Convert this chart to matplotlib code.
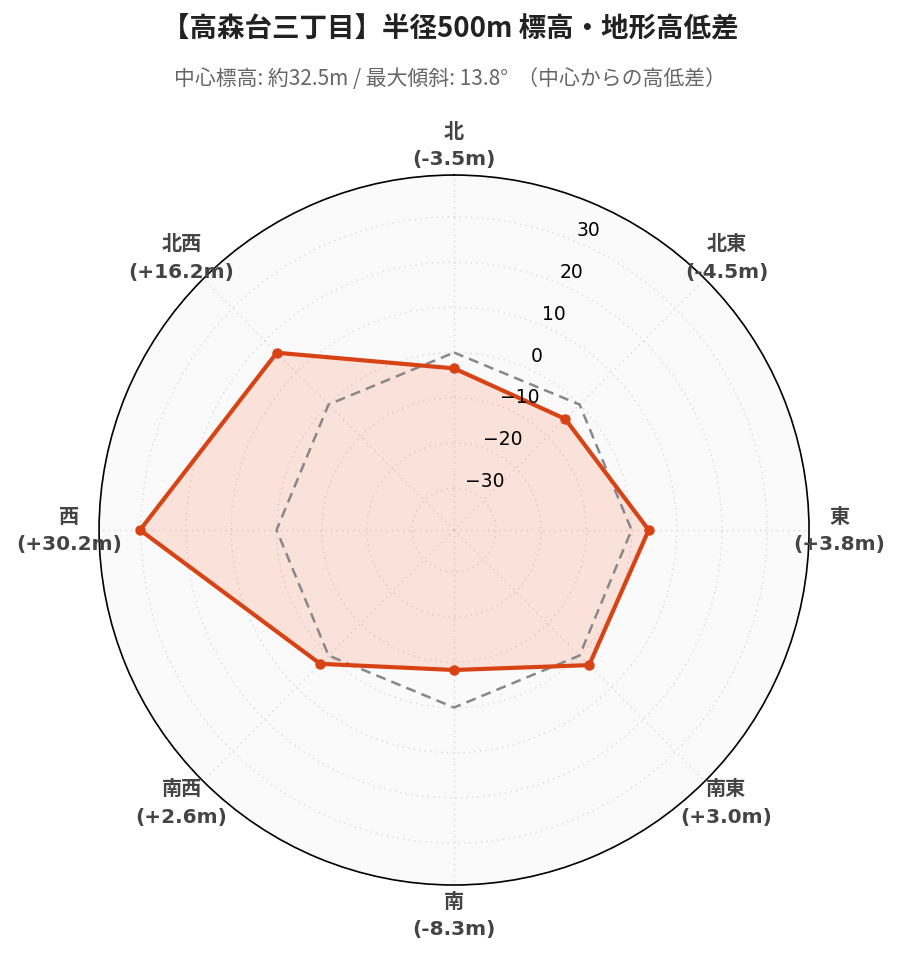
import matplotlib
matplotlib.use('AGG')

import numpy as np
import matplotlib.pyplot as plt
from matplotlib.transforms import ScaledTranslation

# data
directions = ['北', '北東', '東', '南東', '南', '南西', '西', '北西']
diffs = [-3.5, -4.5, 3.8, 3.0, -8.3, 2.6, 30.2, 16.2]
rticks = [-30, -20, -10, 0, 10, 20, 30]
title = '【高森台三丁目】半径500m 標高・地形高低差'
subtitle = '中心標高: 約32.5m / 最大傾斜: 13.8°  （中心からの高低差）'

plt.rcParams['font.family'] = ['Noto Sans CJK JP', 'DejaVu Sans']

rmax = max(abs(v) for v in diffs) * 1.3
theta = np.deg2rad(np.arange(len(directions)) * 45)
th_c = np.append(theta, theta[0])
r_c = np.append(diffs, diffs[0])

fig = plt.figure(figsize=(9, 9.62), dpi=100)
ax = fig.add_axes([0.11, 0.079, 0.789, 0.738], projection='polar')
ax.set_theta_zero_location('N')
ax.set_theta_direction(-1)
ax.set_rlim(-rmax, rmax)
ax.set_facecolor('#fafafa')

# grid
ax.set_xticks(theta)
ax.set_xticklabels([])
ax.set_yticks(rticks)
ax.set_yticklabels([])
ax.grid(True, color='#d9d9d9', linestyle=(0, (1, 3)), linewidth=1)
ax.spines['polar'].set_color('black')
ax.spines['polar'].set_linewidth(1.2)

# zero reference line
ax.plot(th_c, np.zeros_like(th_c), color='#888888', linestyle=(0, (4, 2.5)), linewidth=1.8, zorder=3)

# data polygon
ax.fill(th_c, r_c, color='#ff7043', alpha=0.18, zorder=2, linewidth=0)
ax.plot(th_c, r_c, color='#d84315', linewidth=3, zorder=4)
ax.plot(theta, diffs, 'o', color='#d84315', markersize=6.5, zorder=5)

# radial tick labels
off = ax.transData + ScaledTranslation(0.15, 0.11, fig.dpi_scale_trans)
for v in rticks:
    ax.text(np.deg2rad(22.5), v, f'{v}'.replace('-', '\u2212'), transform=off,
            ha='center', va='center', fontsize=13.5, family='DejaVu Sans', color='black', zorder=6)

# direction labels
for t, d, v in zip(theta, directions, diffs):
    ax.text(t, rmax + 6.7, f'{d}\n({v:+.1f}m)', ha='center', va='center',
            fontsize=14.5, fontweight='bold', color='#444444', linespacing=1.55,
            family=['DejaVu Sans', 'Noto Sans CJK JP'], clip_on=False)

fig.text(0.5, 0.969, title, ha='center', va='center', fontsize=19.8, fontweight='bold', color='#222222')
fig.text(0.5, 0.918, subtitle, ha='center', va='center', fontsize=15, color='#666666')

plt.savefig('out.png', dpi=100)
plt.close(fig)
